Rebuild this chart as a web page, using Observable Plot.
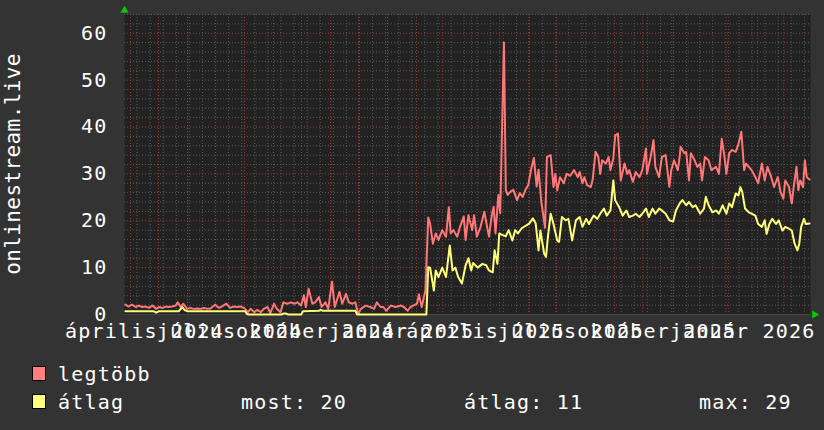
<!DOCTYPE html>
<html><head><meta charset="utf-8">
<script src="https://cdn.jsdelivr.net/npm/d3@7"></script>
<script src="https://cdn.jsdelivr.net/npm/@observablehq/plot@0.6"></script>
<style>
html,body{margin:0;padding:0;background:#333;}
#wrap{position:relative;width:824px;height:430px;background:#333;overflow:hidden;font-family:"DejaVu Sans Mono",monospace;color:#fff;}
#chart svg{display:block;}
#chart svg text{letter-spacing:1.2px;}
.leg{position:absolute;font-size:20px;line-height:20px;white-space:pre;letter-spacing:1.2px;}
.sw{position:absolute;width:12px;height:13px;border:1px solid #000;}
.ytitle{position:absolute;font-size:21px;line-height:21px;white-space:pre;letter-spacing:0.4px;transform:translate(-50%,-50%) rotate(-90deg);}
</style></head><body><div id="wrap"><div id="chart"></div></div>
<script>
const startDate = "2024-03-25T14:00:00Z";
const endDate = "2026-03-29T14:00:00Z";
const maxDays = [1,4,8,12,15,19,22,26,30,34,37,41,44,47,51,55,57,60,63,67,70,74,78,82,85,89,92,97,101,104,109,113,117,120,124,128,132,135,139,142,146,149,153,156,160,163,167,170,174,178,182,185,189,192,194,197,201,204,208,211,215,218,222,225,230,233,237,240,244,247,250,253,258,263,267,270,274,277,280,285,290,296,299,303,306,309,313,315,318,322,325,327,330,333,336,340,344,347,349,352,356,359,363,365,368,372,374,377,381,385,388,390,393,395,397,400,402,406,408,410,413,416,420,423,426,429,432,435,438,441,443,446,450,452,456,459,461,463,466,470,473,477,481,485,487,490,492,495,499,501,504,507,509,511,515,518,520,523,525,528,531,535,538,540,544,547,551,554,558,559,563,566,568,572,575,579,583,585,588,592,594,595,599,601,604,606,609,613,616,618,621,625,628,633,636,639,642,644,647,650,654,657,660,663,665,668,671,675,678,682,685,688,692,695,699,702,705,707,711,714,716,719,721,723,726,728,730,733];
const maxVals = [2.1,1.7,2.1,1.6,1.9,1.6,1.7,1.4,1.9,1.2,1.6,1.4,1.7,1.6,1.7,1.9,2.6,1.6,2.3,1.2,1.4,1.2,1.3,1.2,1.4,1.2,1.3,2.1,1.4,1.7,2.3,1.4,1.7,1.6,1.7,1.4,0.5,1.2,0.5,1.0,0.5,1.2,1.6,0.3,2.3,1.2,0.5,2.6,2.3,2.6,2.3,2.6,1.9,4.1,1.6,5.5,2.3,2.6,3.7,1.6,2.6,1.2,7.0,1.6,4.8,2.3,4.4,2.6,2.3,2.6,0.1,1.2,1.9,1.6,1.2,2.6,1.6,1.6,0.8,1.9,1.6,1.9,1.6,0.8,1.6,1.9,2.3,4.3,1.6,5.1,20.7,19.4,15.1,17.3,15.9,18,16.6,22.9,17.3,18,16.6,18.7,20.9,15.9,21.2,18,21.2,16.6,18.7,21.9,18.7,16.6,21.2,23,17.3,25.5,21.6,58,26.6,25.5,26.2,26.6,24.4,25.9,25.1,26.6,27.6,30.9,33.4,27.3,30.9,24,18.5,33.6,34,27.2,30,26.5,29.3,28,30,29.6,30.8,29.3,30.4,28,29.3,27.6,27.2,28.9,34.7,33.6,30,32.9,32.2,33.6,30.8,33.3,38.2,38.6,28.6,32.2,30,30.8,28.3,30.4,29.3,30.8,35.4,30,33.6,37.2,31.5,29.3,33.6,34,27.2,30.8,32.9,30.8,33.6,35.8,34.4,34.7,28.6,34.4,33.3,31.5,32.2,28.6,33.6,32.9,30.8,31.5,30,37.5,33.6,30,34.4,35.1,34.7,36.4,39,30.8,32.2,31.5,30.8,29.3,28,32.2,28.6,31.5,29.3,27.2,29.3,26.1,24.7,28.6,27.2,23.7,27.2,31.5,26.5,28.6,27.2,32.9,29.3,28.8];
const avgDays = [1,28,31,34,37,58,62,64,67,129,131,133,168,170,173,175,189,191,208,210,212,247,249,323,325,327,331,333,336,340,344,348,351,354,357,361,365,368,371,373,378,383,387,390,394,396,399,401,404,408,411,415,418,421,425,430,433,437,440,443,445,449,451,453,456,459,463,465,468,472,475,479,483,487,490,494,497,499,502,506,509,513,516,520,523,525,529,533,537,540,544,547,551,554,558,561,565,568,572,575,579,583,587,590,594,597,601,604,608,611,616,620,622,625,629,633,636,640,644,647,650,654,657,659,661,664,668,671,675,678,682,685,687,690,693,697,700,704,707,711,714,717,720,722,724,727,729,733];
const avgVals = [0.7,0.7,0.7,0.4,0.7,0.7,1.6,1.0,0.7,0.7,0.1,0,0,0.2,0.2,0,0,0.7,0.8,1.0,0.8,0.8,0,0,10.1,10,5.1,9.4,8,10,8,14.7,9.4,10,8,6.6,10.5,12,9.4,11,10,10.8,10.5,9.4,9,13.7,10.8,17.3,17,16.7,18,15.8,18,17.3,18.4,19,19.4,20.5,19.4,13.7,17.9,13,12.3,16.5,21.5,19.3,15.8,15.5,20.8,20.1,20.4,15.8,20.1,20.8,18.7,20.4,19.3,20.1,21.1,20.4,21.5,22.6,21.1,22.2,28.6,24.4,23,21.1,22.2,20.8,21.1,21.5,20.8,21.5,22.6,20.8,22.6,21.5,22.6,22.2,21.5,20.1,19.8,22.2,23.7,24.4,23.3,24,22.9,23.3,21.5,22.6,25.1,23.3,21.8,22.2,21.5,23.3,21.5,23.7,22.9,25.8,25.4,27.2,26.1,22.6,21.8,21.5,21.1,19.3,18.7,20.1,17.2,19.3,20.4,19.3,20.1,17.9,18.7,18.3,17.9,15.1,13.7,15.1,18.7,20.4,19.3,19.4];
// label positions sit half a month after each month start (rrdtool centres labels in their period)
const xTickDates = ["2024-04-16","2024-07-16","2024-10-16","2025-01-16","2025-04-16","2025-07-16","2025-10-16","2026-01-16"];
const xTickLabels = ["április 2024","július 2024","október 2024","január 2025","április 2025","július 2025","október 2025","január 2026"];
const yTicks = [0,10,20,30,40,50,60];
const yMax = 64;
const yTitle = "onlinestream.live";
const seriesNames = ["legtöbb","átlag"];
const seriesColors = ["#ff7777","#ffff77"];
const swatchColors = ["#ff7f7f","#ffff7f"];
const statLabels = ["most","átlag","max"];
const statValues = [20,11,29];

const t0 = new Date(startDate), tEnd = new Date(endDate);
const toDate = d => new Date(t0.getTime() + d * 864e5);
const maxData = maxDays.map((d, i) => ({date: toDate(d), value: maxVals[i]}));
const avgData = avgDays.map((d, i) => ({date: toDate(d), value: avgVals[i]}));
const tickDates = xTickDates.map(s => new Date(s + "T00:00:00Z"));
const labelMap = new Map(tickDates.map((d, i) => [+d, xTickLabels[i]]));

const minorY = d3.range(2, yMax + 1, 2).filter(v => v % 10 !== 0);
const majorY = d3.range(10, yMax + 1, 10);
const minorX = d3.utcMonday.every(2).range(t0, tEnd);
const majorX = d3.utcMonth.range(t0, tEnd);

const chart = Plot.plot({
  width: 824, height: 345,
  marginLeft: 124, marginRight: 14, marginTop: 14, marginBottom: 31,
  style: {background: "transparent", color: "#fff", fontFamily: "DejaVu Sans Mono", fontSize: "20px", overflow: "visible"},
  x: {type: "utc", domain: [t0, tEnd]},
  y: {domain: [0, yMax]},
  marks: [
    Plot.frame({fill: "#222222", stroke: null}),
    Plot.ruleY(minorY, {stroke: "#585858", strokeDasharray: "1,2"}),
    Plot.ruleX(minorX, {stroke: "#585858", strokeDasharray: "1,2"}),
    Plot.ruleY(majorY, {stroke: "#963a3a", strokeDasharray: "1,2"}),
    Plot.ruleX(majorX, {stroke: "#963a3a", strokeDasharray: "1,2"}),
    Plot.ruleY([0], {stroke: "#444"}),
    Plot.lineY(maxData, {x: "date", y: "value", stroke: seriesColors[0], strokeWidth: 2}),
    Plot.lineY(avgData, {x: "date", y: "value", stroke: seriesColors[1], strokeWidth: 2}),
    Plot.axisY({ticks: yTicks, tickSize: 0, tickPadding: 17, fill: "#fff", label: null}),
    Plot.axisX({ticks: tickDates, tickFormat: d => labelMap.get(+d), tickSize: 0, tickPadding: 9, fill: "#fff", label: null}),
    Plot.dot([{x: t0, y: yMax}], {x: "x", y: "y", symbol: "triangle", fill: "#00cc00", r: 3, dy: -4}),
    Plot.dot([{x: tEnd, y: 0}], {x: "x", y: "y", symbol: "triangle", rotate: 90, fill: "#00cc00", r: 3, dx: 4})
  ]
});
document.getElementById("chart").appendChild(chart);

const wrap = document.getElementById("wrap");
function add(cls, left, top, text, bg) {
  const el = document.createElement("div");
  el.className = cls;
  el.style.left = left + "px";
  el.style.top = top + "px";
  if (text != null) el.textContent = text;
  if (bg) el.style.background = bg;
  wrap.appendChild(el);
  return el;
}
add("ytitle", 13, 164, yTitle);
add("sw", 32, 366, null, swatchColors[0]);
add("sw", 32, 394, null, swatchColors[1]);
add("leg", 58, 364, seriesNames[0]);
add("leg", 58, 392, seriesNames[1]);
const statLeft = [241, 464, 699];
statLabels.forEach((s, i) => add("leg", statLeft[i], 392, `${s}: ${statValues[i]}`));
</script></body></html>
